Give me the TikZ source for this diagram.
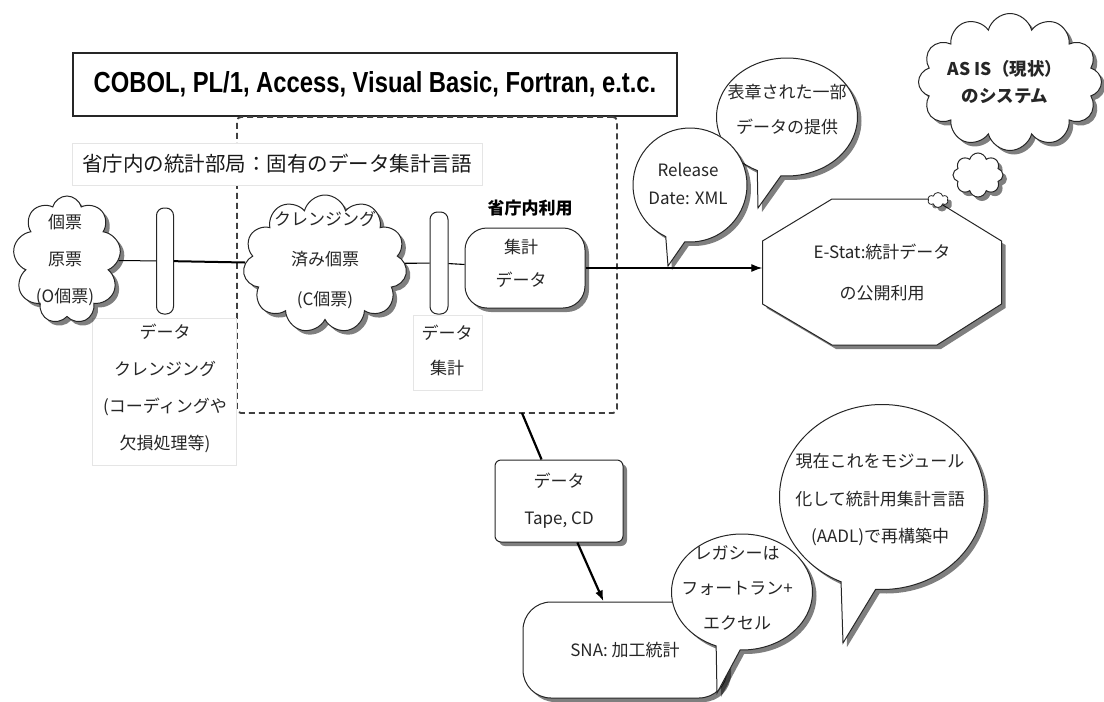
\documentclass[tikz,border=0pt]{standalone}
\usepackage{fontspec}
\setmainfont{Noto Sans CJK JP}
\newfontfamily\cobolfont[FakeStretch=0.82]{Liberation Sans}
\usetikzlibrary{shapes.symbols,shapes.callouts,shapes.misc,shadows,arrows.meta}
\begin{document}
\begin{tikzpicture}[x=1pt,y=-1pt,
  shadowed/.style={drop shadow={shadow xshift=4pt,shadow yshift=-4pt,fill=black,opacity=0.5}},
  cloudbox/.style={cloud, cloud ignores aspect, draw=black!85, line width=1pt, fill=white, inner sep=0pt, shadowed},
  bubble/.style={ellipse callout, draw=black!85, line width=1pt, fill=white, inner sep=0pt, callout pointer arc=20, shadowed},
  txt/.style={font=\fontsize{17}{36}\selectfont, align=center, inner sep=0pt, text=black!85},
  faint/.style={draw=black!10, fill=white, line width=0.6pt, inner sep=0pt},
  lens/.style={draw=black!85, line width=1pt, fill=white, rounded corners=7.5pt, inner sep=0pt},
  conn/.style={draw=black, line width=1.1pt},
  arrowtip/.style={-{Latex[length=11pt,width=8pt]}}
]
\fill[white] (0,0) rectangle (1104,702);
\useasboundingbox (0,0) rectangle (1104,702);

% top language box
\node[draw=black!85, line width=1.2pt, minimum width=604, minimum height=63, inner sep=0pt,
      font=\cobolfont\bfseries\fontsize{29}{29}\selectfont] (langs) at (375,84.5)
      {COBOL, PL/1, Access, Visual Basic, Fortran, e.t.c.};

% dashed region
\node[draw=black!75, line width=1.8pt, dash pattern=on 6pt off 4pt, rounded corners=4pt,
      minimum width=380, minimum height=296, inner sep=0pt] (region) at (427,265) {};

% title
\node[faint, minimum width=410, minimum height=42, font=\fontsize{20.5}{24}\selectfont, text=black!90]
      (title) at (277,164) {省庁内の統計部局：固有のデータ集計言語};

% label boxes
\node[faint, minimum width=144, minimum height=147] (lblcleanbox) at (164,391.5) {};
\node[txt, font=\fontsize{17}{37}\selectfont] (lblclean) at (165,388)
      {データ\\クレンジング\\(コーディングや\\欠損処理等)};
\node[faint, minimum width=69, minimum height=75] (lblaggbox) at (447.5,352.5) {};
\node[txt, font=\fontsize{17}{35}\selectfont] (lblagg) at (447,350) {データ\\集計};

% process chain
\node[cloudbox, cloud puffs=9, minimum width=108, minimum height=128] (ocloud) at (67,260) {};
\node[txt, font=\fontsize{17}{37}\selectfont] (ocloudtxt) at (65,260) {個票\\原票\\(O個票)};
\node[lens, minimum width=17, minimum height=106] (lens1) at (165,261) {};
\node[cloudbox, cloud puffs=11, minimum width=164, minimum height=138] (ccloud) at (325,264) {};
\node[txt, font=\fontsize{17}{40}\selectfont] (ccloudtxt) at (325,260) {クレンジング\\済み個票\\(C個票)};
\node[lens, minimum width=18, minimum height=102] (lens2) at (439,263) {};
\node[draw=black!85, line width=1pt, fill=white, rounded corners=22pt, minimum width=120,
      minimum height=80, inner sep=0pt, shadowed] (agg) at (525,268) {};
\node[txt, font=\fontsize{17}{33}\selectfont] (aggtxt) at (521,263) {集計\\データ};
\node[font=\bfseries\fontsize{17}{20}\selectfont, inner sep=0pt] (inuse) at (530,208) {省庁内利用};

\draw[conn, line width=1pt] (ocloud) -- (lens1);
\draw[conn, line width=2pt] (lens1) -- (ccloud);
\draw[conn] (ccloud) -- (lens2);
\draw[conn] (lens2) -- (agg);

% E-Stat octagon
\draw[draw=black!85, line width=1pt, fill=white, shadowed]
  (832,199) -- (933,199) -- (1001.5,241) -- (1001.5,304) -- (937,345) -- (832,345)
  -- (762.5,304) -- (762.5,241) -- cycle;
\node[txt, minimum width=239, minimum height=146, font=\fontsize{17}{41}\selectfont] (estat) at (882,272)
      {E-Stat:統計データ\\の公開利用};
\draw[conn, line width=1.2pt, arrowtip] (agg.east) -- (agg.east -| estat.west);

% speech bubbles top
\coordinate (hyotip) at (758,208);
\coordinate (reltip) at (668,266);
\node[bubble, minimum width=141, minimum height=118, callout absolute pointer=(hyotip)] (hyo) at (787,117) {};
\node[txt, font=\fontsize{17}{35}\selectfont] (hyotxt) at (787,110) {表章された一部\\データの提供};
\node[bubble, minimum width=114, minimum height=114, callout absolute pointer=(reltip)] (rel) at (690,185) {};
\node[txt, font=\fontsize{17}{28}\selectfont] (reltxt) at (688,184) {Release\\Date: XML};

% thought clouds
\node[cloudbox, cloud puffs=12, minimum width=183, minimum height=137] (asis) at (1010,82) {};
\node[txt, font=\bfseries\fontsize{17.5}{27}\selectfont] (asistxt) at (1005,82) {AS IS（現状）\\のシステム};
\node[cloudbox, cloud puffs=8, minimum width=50, minimum height=44] (think1) at (978,175) {};
\node[cloudbox, cloud puffs=6, minimum width=20, minimum height=15, line width=0.8pt] (think2) at (938,200) {};

% lower part
\coordinate (regout) at (522,413);
\node[draw=black!85, line width=1pt, fill=white, rounded corners=6pt, minimum width=128,
      minimum height=82, shadowed, txt, font=\fontsize{17}{37}\selectfont] (tape) at (559,501) {データ\\Tape, CD};
\draw[conn, line width=2.2pt] (regout) -- (tape);
\node[draw=black!85, line width=1pt, fill=white, rounded corners=28pt, minimum width=204,
      minimum height=96, shadowed, txt] (sna) at (625,650) {SNA: 加工統計};
\draw[conn, line width=2.2pt, arrowtip] (tape) -- (sna);

\coordinate (gentip) at (843,643);
\coordinate (legtip) at (717,693);
\node[bubble, minimum width=205, minimum height=185, callout absolute pointer=(gentip)] (gen) at (882,497) {};
\node[txt, font=\fontsize{17}{37.5}\selectfont] (gentxt) at (880,500)
      {現在これをモジュール\\化して統計用集計言語\\(AADL)で再構築中};
\node[bubble, minimum width=141, minimum height=116, callout absolute pointer=(legtip)] (leg) at (742,592) {};
\node[txt, font=\fontsize{17}{35}\selectfont] (legtxt) at (737,588) {レガシーは\\フォートラン+\\エクセル};
\end{tikzpicture}
\end{document}
